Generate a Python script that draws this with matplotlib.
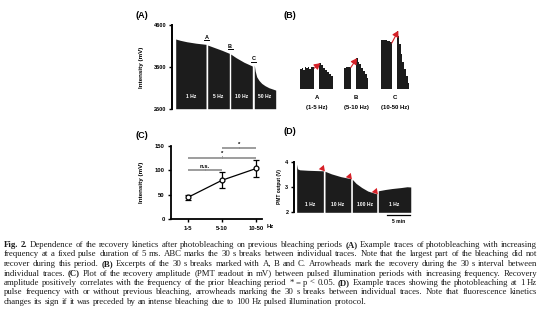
import matplotlib
matplotlib.use('Agg')
import matplotlib.pyplot as plt

W, H = 554, 330
plt.rcParams['font.family'] = ['Liberation Sans', 'DejaVu Sans']
plt.rcParams['font.weight'] = 'bold'
fig = plt.figure(figsize=(W / 100, H / 100), dpi=100)

TRACE = '#1c1c1c'
RED = '#d62027'
GREY = '#8c8c8c'

# (A) bleaching traces, one block per pulse frequency
a_rates = ['1 Hz', '5 Hz', '10 Hz', '50 Hz']
a_time = [[3.7, 8, 14.7, 24, 34.0],
          [35.7, 42, 50, 57.3],
          [58.7, 64, 72, 80.3],
          [82.3, 83.2, 84.7, 87, 89.7, 93, 97, 103.7]]
a_vals = [[4265, 4235, 4200, 4165, 4138],
          [4120, 4065, 3995, 3923],
          [3906, 3820, 3710, 3620],
          [3643, 3500, 3363, 3275, 3205, 3150, 3100, 3045]]
a_breaks = ['A', 'B', 'C']

# (B) excerpts around the breaks (mV above trace floor)
b_names = ['A', 'B', 'C']
b_ranges = ['(1-5 Hz)', '(5-10 Hz)', '(10-50 Hz)']
b_pre_t = [[5, 6.5, 8, 9.5, 11, 12.5, 14, 15.5, 17, 19.3],
           [49, 51, 53, 55.7],
           [86, 89, 92, 94.5, 96.7]]
b_pre_v = [[180, 195, 175, 200, 190, 205, 185, 200, 205, 195],
           [195, 205, 200, 200],
           [445, 440, 432, 425, 420]]
b_post_t = [[24.3, 26, 28, 30, 32, 34, 36, 38.3],
            [61, 62.5, 64, 66, 68, 70, 72, 73.3],
            [102.3, 103, 104, 105.5, 107, 109, 111, 113, 114.3]]
b_post_v = [[235, 215, 195, 175, 160, 140, 120, 100],
            [280, 250, 225, 190, 165, 135, 105, 85],
            [527, 480, 410, 320, 250, 185, 120, 60, 25]]

# (C) recovery amplitude
c_groups = ['1-5', '5-10', '10-50']
c_mean = [45, 80, 104]
c_err = [4.5, 16, 17]
c_sig = [(0, 1, 100, 'n.s.'), (0, 2, 126, '*'), (1, 2, 145, '*')]

# (D) 1 Hz bleaching before and after stronger protocols
d_rates = ['1 Hz', '10 Hz', '100 Hz', '1 Hz']
d_time = [[0.57, 0.75, 1.2, 3, 6.28],
          [6.64, 8, 10, 12.14],
          [12.49, 13.3, 14.5, 15.8, 17.71],
          [18.05, 19.5, 21, 23, 24.2, 24.99]]
d_vals = [[3.9, 3.72, 3.68, 3.66, 3.64],
          [3.62, 3.52, 3.41, 3.33],
          [3.30, 3.14, 2.98, 2.84, 2.73],
          [2.85, 2.9, 2.94, 2.98, 3.01, 3.0]]
d_scale_min = 5


def px_axes(x0, y0, x1, y1):
    # box given in pixels from the top-left corner
    return fig.add_axes([x0 / W, 1 - y1 / H, (x1 - x0) / W, (y1 - y0) / H])


def panel_label(x, y, s):
    fig.text(x / W, 1 - y / H, s, fontsize=6.5, fontweight='bold', va='center', ha='left')


def style_left(ax):
    for side in ['top', 'right', 'bottom']:
        ax.spines[side].set_visible(False)
    ax.spines['left'].set_linewidth(1.4)
    ax.tick_params(axis='y', length=2.5, width=1.0, labelsize=4, pad=1.5)
    ax.set_xticks([])
    ax.patch.set_alpha(0)


# ---------- (A) ----------
ax = px_axes(172, 25, 277, 108.7)
style_left(ax)
ax.set_xlim(0, 105)
ax.set_ylim(2600, 4600)
ax.set_yticks([2600, 3600, 4600])
ax.set_ylabel('Intensity (mV)', fontsize=4.5, fontweight='bold')
ax.yaxis.set_label_coords(-0.27, 0.5)
for t, v, lab in zip(a_time, a_vals, a_rates):
    ax.fill_between(t, v, 2600, color=TRACE, linewidth=0)
    ax.text((t[0] + t[-1]) / 2, 2900, lab, color='white', fontsize=3.6,
            ha='center', va='center')
for i, lab in enumerate(a_breaks):
    gx = (a_time[i][-1] + a_time[i + 1][0]) / 2
    top = a_vals[i][-1]
    ax.text(gx, top + 170, lab, fontsize=4, ha='center', va='center')
    ax.plot([gx - 2.5, gx + 2.5], [top + 95, top + 95], color='black', lw=0.7)
panel_label(136, 16, '(A)')

# ---------- (B) ----------
ax = px_axes(295, 22.6, 415, 89.3)
ax.axis('off')
ax.set_xlim(0, 120)
ax.set_ylim(0, 600)
for i in range(3):
    ax.fill_between(b_pre_t[i], b_pre_v[i], 0, color=TRACE, linewidth=0, step='post')
    ax.fill_between(b_post_t[i], b_post_v[i], 0, color=TRACE, linewidth=0, step='post')
    ax.annotate('', xy=(b_post_t[i][0] + 1.0, b_post_v[i][0]),
                xytext=(b_pre_t[i][-1], b_pre_v[i][-1] - 5),
                arrowprops=dict(arrowstyle='-|>,head_length=0.35,head_width=0.2',
                                color=RED, lw=0.8, shrinkA=0, shrinkB=0))
    cx = (b_pre_t[i][0] + b_post_t[i][-1]) / 2
    ax.text(cx, -72, b_names[i], fontsize=4.3, ha='center', va='center', clip_on=False)
    ax.text(cx, -165, b_ranges[i], fontsize=4.3, ha='center', va='center', clip_on=False)
panel_label(283, 16, '(B)')

# ---------- (C) ----------
ax = px_axes(171, 146, 262, 219.3)
for side in ['top', 'right']:
    ax.spines[side].set_visible(False)
for side in ['left', 'bottom']:
    ax.spines[side].set_linewidth(1.3)
ax.patch.set_alpha(0)
x = list(range(len(c_groups)))
ax.errorbar(x, c_mean, yerr=c_err, color='black', lw=0.9, capsize=2, capthick=0.9,
            marker='o', ms=3.5, mfc='white', mec='black', mew=0.9, zorder=3)
ax.set_xlim(-0.5, 2.17)
ax.set_ylim(0, 150)
ax.set_yticks([0, 50, 100, 150])
ax.set_xticks(x)
ax.set_xticklabels(c_groups)
ax.tick_params(length=2.5, width=1.0, labelsize=4.2, pad=2)
ax.text(2.3, -14.5, 'Hz', fontsize=4.2, ha='left', va='center', clip_on=False)
ax.set_ylabel('Intensity (mV)', fontsize=4.5, fontweight='bold')
ax.yaxis.set_label_coords(-0.3, 0.5)
for x0, x1, y, lab in c_sig:
    ax.plot([x0, x1], [y, y], color=GREY, lw=1.2, clip_on=False, solid_capstyle='butt')
    ax.plot([(x0 + x1) / 2] * 2, [y, y + 3], color=GREY, lw=0.6, clip_on=False)
    ax.text((x0 + x1) / 2, y + 8, lab, fontsize=4.2, ha='center', va='center',
            clip_on=False)
panel_label(136, 135, '(C)')

# ---------- (D) ----------
ax = px_axes(294, 161.7, 415, 212.3)
style_left(ax)
ax.set_xlim(0, 25.9)
ax.set_ylim(2, 4)
ax.set_yticks([2, 3, 4])
ax.set_ylabel('PMT output (V)', fontsize=3.5, fontweight='bold')
ax.yaxis.set_label_coords(-0.1, 0.5)
for i, (t, v, lab) in enumerate(zip(d_time, d_vals, d_rates)):
    ax.fill_between(t, v, 2, color=TRACE, linewidth=0)
    ax.text((t[0] + t[-1]) / 2, 2.29, lab, color='white', fontsize=3.6,
            ha='center', va='center')
    if i < 3:
        ax.plot(t[-1] - 0.35, v[-1] + 0.1, marker=(3, 0, -20), ms=5.5, color=RED,
                mec='none', clip_on=False)
sb_end = d_time[-1][-1] - 0.1
ax.plot([sb_end - d_scale_min, sb_end], [1.89, 1.89], color='black', lw=0.9, clip_on=False)
ax.text(sb_end - d_scale_min / 2, 1.62, '%d min' % d_scale_min, fontsize=3.6,
        ha='center', va='center', clip_on=False)
panel_label(283, 132, '(D)')

# ---------- caption ----------
caption_lines = [
    "Fig. 2. Dependence of the recovery kinetics after photobleaching on previous bleaching periods (A) Example traces of photobleaching with increasing",
    "frequency at a fixed pulse duration of 5 ms. ABC marks the 30 s breaks between individual traces. Note that the largest part of the bleaching did not",
    "recover during this period. (B) Excerpts of the 30 s breaks marked with A, B and C. Arrowheads mark the recovery during the 30 s interval between",
    "individual traces. (C) Plot of the recovery amplitude (PMT readout in mV) between pulsed illumination periods with increasing frequency. Recovery",
    "amplitude positively correlates with the frequency of the prior bleaching period * = p < 0.05. (D) Example traces showing the photobleaching at 1 Hz",
    "pulse frequency with or without previous bleaching, arrowheads marking the 30 s breaks between individual traces. Note that fluorescence kinetics",
    "changes its sign if it was preceded by an intense bleaching due to 100 Hz pulsed illumination protocol.",
]
bold_words = {'Fig.', '2.', '(A)', '(B)', '(C)', '(D)'}
cap_left, cap_right = 4, 537
cap_top, cap_step = 245, 9.5
cap_font = 'Liberation Serif'

renderer = fig.canvas.get_renderer()


def word_widths(line, size):
    ws = []
    for w in line.split(' '):
        t = fig.text(0, 0, w, fontsize=size, family=cap_font,
                     fontweight='bold' if w in bold_words else 'normal')
        ws.append(t.get_window_extent(renderer).width)
        t.remove()
    return ws


def text_width(s, size):
    t = fig.text(0, 0, s, fontsize=size, family=cap_font, fontweight='normal')
    w = t.get_window_extent(renderer).width
    t.remove()
    return w


# grow the type until the fullest justified line has only slightly wide spaces
cap_size = 6.0
for _ in range(6):
    space_w = text_width('a a', cap_size) - text_width('aa', cap_size)
    fullest = max(sum(word_widths(s, cap_size)) + space_w * (len(s.split(' ')) - 1)
                  for s in caption_lines[:-1])
    cap_size *= (cap_right - cap_left) * 0.985 / fullest
space_w = text_width('a a', cap_size) - text_width('aa', cap_size)

for n, line in enumerate(caption_lines):
    y = 1 - (cap_top + n * cap_step) / H
    words = line.split(' ')
    widths = word_widths(line, cap_size)
    if n < len(caption_lines) - 1:
        gap = (cap_right - cap_left - sum(widths)) / (len(words) - 1)
    else:
        gap = space_w
    xpos = cap_left
    for w, wd in zip(words, widths):
        fig.text(xpos / W, y, w, fontsize=cap_size, family=cap_font,
                 fontweight='bold' if w in bold_words else 'normal',
                 color='#1a1a1a', va='center', ha='left')
        xpos += wd + gap

fig.savefig('out.png', dpi=100)
